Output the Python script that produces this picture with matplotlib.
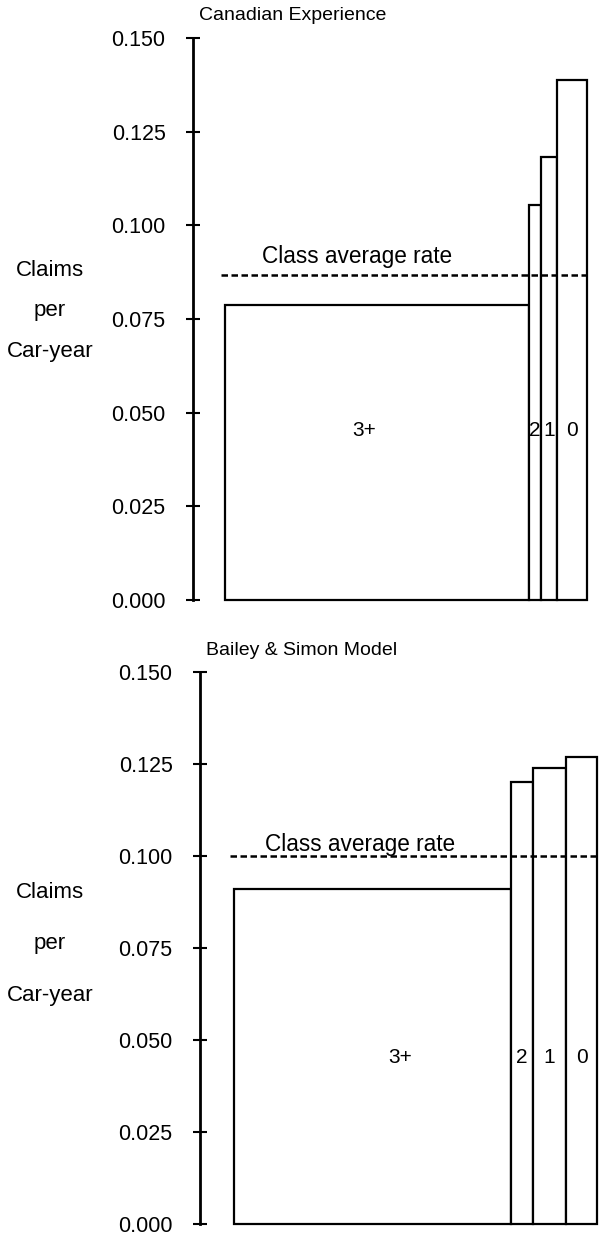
import matplotlib
matplotlib.use("Agg")
import matplotlib.pyplot as plt

plt.rcParams["font.family"] = ["Liberation Sans", "DejaVu Sans"]

# merit classes, left to right
classes = ["3+", "2", "1", "0"]

# Canadian experience: share of car-years and claim frequency
canada_share = [0.840, 0.033, 0.044, 0.083]
canada_rate = [0.0788, 0.1055, 0.1183, 0.1387]
canada_avg = 0.0867

# Bailey & Simon model
model_share = [0.763, 0.061, 0.091, 0.085]
model_rate = [0.0910, 0.1200, 0.1240, 0.1270]
model_avg = 0.100

yticks = [0.000, 0.025, 0.050, 0.075, 0.100, 0.125, 0.150]
ylabel_lines = ["Claims", "per", "Car-year"]

W, H = 599, 1237
fig = plt.figure(figsize=(W / 100, H / 100), dpi=100)


def px_axes(left, right, top, bottom):
    # figure fractions from pixel edges
    return [left / W, 1 - bottom / H, (right - left) / W, (bottom - top) / H]


def panel(rect, share, rate, avg, title, gap_px, span_px, txt_dx, txt_dy,
          lab3_dx, ylab_y, ylab_step):
    ax = fig.add_axes(rect)
    width_px = rect[2] * W
    x0 = -gap_px / span_px
    ax.set_xlim(x0, x0 + width_px / span_px)
    ax.set_ylim(0, 0.15)

    lefts = [sum(share[:i]) for i in range(len(share))]
    ax.bar(lefts, rate, width=share, align="edge", facecolor="white",
           edgecolor="black", linewidth=1.6, clip_on=False, zorder=2)

    # class labels inside the bars
    for i, (l, w, c) in enumerate(zip(lefts, share, classes)):
        dx = lab3_dx if i == 0 else 0
        ax.text(l + w / 2 + dx, 0.302, c, transform=ax.get_xaxis_transform(),
                ha="center", va="center", fontsize=15, zorder=3)

    # class average line
    ax.hlines(avg, -0.01, sum(share), colors="black", linewidth=1.8,
              linestyles=(0, (2.6, 1.4)), zorder=3, clip_on=False)
    ax.annotate("Class average rate", xy=(txt_dx, avg), xytext=(0, txt_dy),
                textcoords="offset points", ha="left", va="bottom",
                fontsize=16.3)

    for s in ["top", "right", "bottom"]:
        ax.spines[s].set_visible(False)
    ax.spines["left"].set_linewidth(2.0)
    ax.set_xticks([])
    ax.set_yticks(yticks)
    ax.set_yticklabels([f"{v:.3f}" for v in yticks])
    ax.tick_params(axis="y", direction="inout", length=9.5, width=1.5,
                   pad=15, labelsize=15.5)

    top_px = (1 - rect[1] - rect[3]) * H
    fig.text((rect[0] * W + 6) / W, 1 - (top_px - 22) / H, title,
             ha="left", va="center", fontsize=14)
    for k, line in enumerate(ylabel_lines):
        y = ylab_y + (k - 1) * ylab_step
        fig.text(50 / W, 1 - y / H, line, ha="center", va="center",
                 fontsize=16)
    return ax


panel(px_axes(193, 599, 38, 600), canada_share, canada_rate, canada_avg,
      "Canadian Experience", 32, 362, 0.102, 5, -0.036, 311, 41)
panel(px_axes(200, 599, 672, 1224), model_share, model_rate, model_avg,
      "Bailey & Simon Model", 34, 363, 0.085, 0, 0.075, 944, 52)

fig.savefig("out.png", dpi=100)
